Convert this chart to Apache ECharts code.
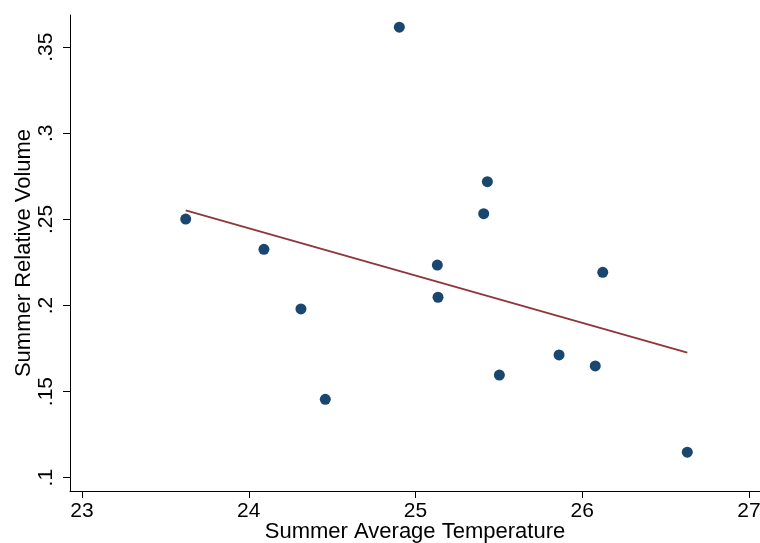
<!DOCTYPE html>
<html>
<head>
<meta charset="utf-8">
<script src="https://cdn.jsdelivr.net/npm/echarts@6/dist/echarts.min.js"></script>
<style>
html,body{margin:0;padding:0;background:#fff;}
#chart{width:760px;height:543px;}
</style>
</head>
<body>
<div id="chart"></div>
<script>
// Data
var temperature = [23.622, 24.091, 24.313, 24.459, 24.903, 25.131, 25.135, 25.409, 25.431, 25.503, 25.861, 26.078, 26.123, 26.630];
var relVolume   = [0.2502, 0.2326, 0.1980, 0.1455, 0.3616, 0.2235, 0.2048, 0.2533, 0.2719, 0.1596, 0.1713, 0.1649, 0.2193, 0.1148];
var fitX = [23.622, 26.630];
var fitY = [0.2553, 0.1727];
var xTicks = [23, 24, 25, 26, 27];
var yTicks = [0.10, 0.15, 0.20, 0.25, 0.30, 0.35];
var xTitle = 'Summer Average Temperature';
var yTitle = 'Summer Relative Volume';

var FONT = '"Liberation Sans", Arial, sans-serif';
var scatterData = temperature.map(function (t, i) { return [t, relVolume[i]]; });
var fitData = fitX.map(function (x, i) { return [x, fitY[i]]; });

var chart = echarts.init(document.getElementById('chart'), null, {renderer: 'canvas'});
chart.setOption({
  backgroundColor: '#ffffff',
  animation: false,
  grid: [
    {left: 70, right: 0, top: 15, bottom: 52, containLabel: false, outerBoundsMode: 'none'},
    {left: 82, right: 11, top: 47.2, bottom: 65.3, containLabel: false, outerBoundsMode: 'none'}
  ],
  xAxis: [
    {
      type: 'value', gridIndex: 0, min: 22.928, max: 27.066,
      axisLine: {show: true, lineStyle: {color: '#000', width: 1}},
      axisTick: {show: false}, axisLabel: {show: false}, splitLine: {show: false},
      name: xTitle, nameLocation: 'middle', nameGap: 30, nameMoveOverlap: false,
      nameTextStyle: {fontFamily: FONT, fontSize: 22, color: '#000'}
    },
    {
      type: 'value', gridIndex: 1, min: xTicks[0], max: xTicks[xTicks.length - 1], interval: 1,
      offset: 13.3,
      axisLine: {show: false},
      axisTick: {show: true, length: 7, lineStyle: {color: '#000', width: 1}},
      axisLabel: {show: true, margin: 10, fontFamily: FONT, fontSize: 21, color: '#000'},
      splitLine: {show: false}
    }
  ],
  yAxis: [
    {
      type: 'value', gridIndex: 0, min: 0.09228, max: 0.3687,
      axisLine: {show: true, lineStyle: {color: '#000', width: 1}},
      axisTick: {show: false}, axisLabel: {show: false}, splitLine: {show: false},
      name: yTitle, nameLocation: 'middle', nameGap: 35, nameMoveOverlap: false,
      nameTextStyle: {fontFamily: FONT, fontSize: 22, color: '#000'}
    },
    {
      type: 'value', gridIndex: 1, min: yTicks[0], max: yTicks[yTicks.length - 1], interval: 0.05,
      offset: 12,
      axisLine: {show: false},
      axisTick: {show: true, length: 7, lineStyle: {color: '#000', width: 1}},
      axisLabel: {
        show: true, margin: 13, rotate: 90, fontFamily: FONT, fontSize: 21, color: '#000',
        formatter: function (v) { return String(+v.toFixed(2)).replace(/^0\./, '.'); }
      },
      splitLine: {show: false}
    }
  ],
  series: [
    {
      type: 'scatter', xAxisIndex: 0, yAxisIndex: 0, data: scatterData,
      symbol: 'circle', symbolSize: 11, clip: false,
      itemStyle: {color: '#1a476f', opacity: 1}
    },
    {
      type: 'line', xAxisIndex: 0, yAxisIndex: 0, data: fitData,
      showSymbol: false, symbol: 'none',
      lineStyle: {color: '#90353b', width: 1.8}
    }
  ]
});
</script>
</body>
</html>
